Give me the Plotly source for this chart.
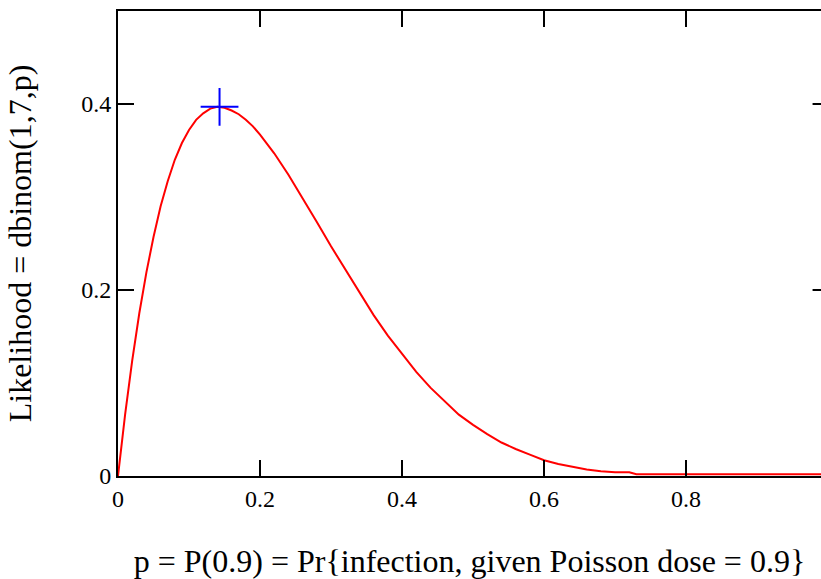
import plotly.graph_objects as go

# p values and likelihood values
p_vals = [0.00, 0.01, 0.02, 0.03, 0.04, 0.05, 0.06, 0.07, 0.08, 0.09,
          0.10, 0.11, 0.12, 0.13, 0.14, 0.15, 0.16, 0.17, 0.18, 0.19,
          0.20, 0.22, 0.24, 0.26, 0.28, 0.30, 0.32, 0.34, 0.36, 0.38,
          0.40, 0.42, 0.44, 0.46, 0.48, 0.50, 0.52, 0.54, 0.56, 0.58,
          0.60, 0.62, 0.64, 0.66, 0.68, 0.70, 0.72, 0.73, 0.80, 0.90, 0.99]
likelihood = [0.000, 0.066, 0.124, 0.175, 0.219, 0.257, 0.290, 0.317, 0.340, 0.358,
              0.372, 0.383, 0.390, 0.395, 0.397, 0.396, 0.393, 0.389, 0.383, 0.376,
              0.367, 0.347, 0.324, 0.299, 0.273, 0.247, 0.222, 0.197, 0.173, 0.151,
              0.131, 0.112, 0.095, 0.080, 0.066, 0.055, 0.045, 0.036, 0.029, 0.023,
              0.017, 0.013, 0.010, 0.007, 0.005, 0.004, 0.004, 0.002, 0.002, 0.002, 0.002]

# maximum-likelihood point
mle_p = [0.143]
mle_val = [0.397]

x_ticks = [0, 0.2, 0.4, 0.6, 0.8]
x_tick_text = ["0", "0.2", "0.4", "0.6", "0.8"]
y_ticks = [0, 0.2, 0.4]
y_tick_text = ["0", "0.2", "0.4"]

font_family = "Liberation Serif"

fig = go.Figure()
fig.add_trace(go.Scatter(x=p_vals, y=likelihood, mode="lines",
                         line=dict(color="#ff0000", width=2), showlegend=False,
                         hoverinfo="skip"))
fig.add_trace(go.Scatter(x=mle_p, y=mle_val, mode="markers",
                         marker=dict(symbol="cross-thin", size=27,
                                     line=dict(color="#0000ff", width=2)),
                         showlegend=False))

# right-side mirrored ticks (the right frame lies just outside the picture)
for yv in [0.2, 0.4]:
    fig.add_shape(type="line", xref="paper", yref="y", x0=0.988, x1=1.0,
                  y0=yv, y1=yv, line=dict(color="black", width=2))

fig.update_layout(
    width=821, height=579,
    margin=dict(l=118, r=0, t=11, b=103),
    paper_bgcolor="white", plot_bgcolor="white",
    font=dict(family=font_family, color="black", size=24),
    xaxis=dict(range=[0, 0.99], tickvals=x_ticks, ticktext=x_tick_text,
               ticks="inside", ticklen=16, tickwidth=2, tickcolor="black",
               showline=True, linecolor="black", linewidth=2, mirror="ticks",
               showgrid=False, zeroline=False,
               tickfont=dict(family=font_family, size=24),
               title=dict(text="p = P(0.9) = Pr{infection, given Poisson dose = 0.9}",
                          font=dict(family=font_family, size=32), standoff=42)),
    yaxis=dict(range=[0, 0.5], tickvals=y_ticks, ticktext=y_tick_text,
               ticks="inside", ticklen=16, tickwidth=2, tickcolor="black",
               showline=True, linecolor="black", linewidth=2,
               showgrid=False, zeroline=False,
               tickfont=dict(family=font_family, size=24),
               title=dict(text="Likelihood = dbinom(1,7,p)",
                          font=dict(family=font_family, size=32), standoff=40)),
)

fig.write_html("out.html")
